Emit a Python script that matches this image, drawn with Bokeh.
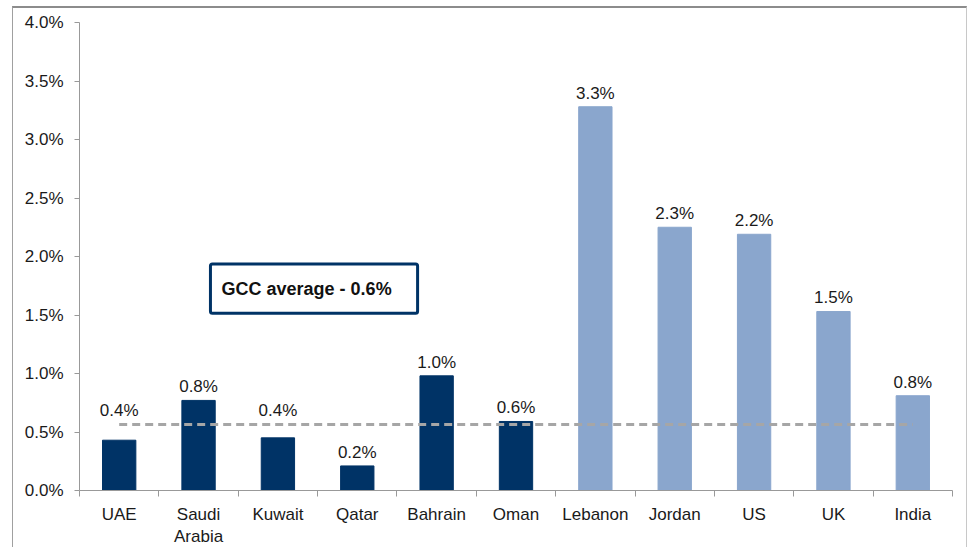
from bokeh.plotting import figure
from bokeh.models import FixedTicker, PrintfTickFormatter, Range1d, Label, BoxAnnotation, ColumnDataSource
from bokeh.embed import file_html
from bokeh.resources import INLINE

categories = ["UAE", "Saudi\nArabia", "Kuwait", "Qatar", "Bahrain", "Oman",
              "Lebanon", "Jordan", "US", "UK", "India"]
values = [0.43, 0.77, 0.45, 0.21, 0.98, 0.59, 3.28, 2.25, 2.19, 1.53, 0.81]
labels = ["0.4%", "0.8%", "0.4%", "0.2%", "1.0%", "0.6%", "3.3%", "2.3%", "2.2%", "1.5%", "0.8%"]
is_gcc = [True, True, True, True, True, True, False, False, False, False, False]
label_over_average = [True, False, True, False, False, False, False, False, False, False, False]
gcc_average = 0.565
gcc_text = "GCC average - 0.6%"
y_ticks = [0, 0.5, 1.0, 1.5, 2.0, 2.5, 3.0, 3.5, 4.0]

NAVY = "#003366"
LIGHT = "#8AA6CD"
FONT = "Liberation Sans"

n = len(categories)
xs = [i + 0.5 for i in range(n)]
colors = [NAVY if g else LIGHT for g in is_gcc]
label_y = [gcc_average if o else v for v, o in zip(values, label_over_average)]

src = ColumnDataSource(dict(x=xs, top=values, color=colors, label=labels, ly=label_y))

p = figure(width=955, height=541, output_backend="svg", toolbar_location=None,
           x_range=Range1d(0, n), y_range=Range1d(0, 4.0),
           min_border_left=66, min_border_right=16, min_border_top=14, min_border_bottom=58)
p.margin = (6, 0, 0, 12)
p.outline_line_color = None
p.xgrid.grid_line_color = None
p.ygrid.grid_line_color = None
p.background_fill_color = "white"
p.styles = {"border-top": "2px solid #8c8c8c", "border-left": "1px solid #a0a0a0",
            "border-right": "1px solid #c8c8c8"}

p.vbar(x="x", top="top", width=0.42, bottom=0, color="color", source=src)

p.text(x="x", y="ly", text="label", source=src, text_align="center", text_baseline="bottom",
       y_offset=-4, text_font_size="17px", text_color="#1a1a1a", text_font={"value": FONT})

p.line(x=[xs[0], xs[-1]], y=[gcc_average, gcc_average], line_color="#a6a6a6",
       line_width=3, line_dash="8 5")

# GCC average box
box = BoxAnnotation(left=1.65, right=4.26, bottom=1.516, top=1.936,
                    fill_color="white", fill_alpha=1.0, line_color=NAVY, line_alpha=1.0,
                    line_width=3, border_radius=2)
p.add_layout(box)
p.add_layout(Label(x=1.79, y=1.726, text=gcc_text, text_baseline="middle",
                   text_font_size="18px", text_font_style="bold", text_color="#111111",
                   text_font=FONT))

# y axis
ya = p.yaxis[0]
ya.ticker = FixedTicker(ticks=y_ticks)
ya.formatter = PrintfTickFormatter(format="%.1f%%")
ya.axis_line_color = "#999999"
ya.major_tick_line_color = "#999999"
ya.major_tick_out = 5
ya.major_tick_in = 0
ya.minor_tick_line_color = None
ya.major_label_text_font = FONT
ya.major_label_text_font_size = "17px"
ya.major_label_text_color = "#1a1a1a"
ya.major_label_standoff = 11

# x axis
xa = p.xaxis[0]
xa.ticker = FixedTicker(ticks=xs, minor_ticks=list(range(n + 1)))
xa.major_label_overrides = {x: c for x, c in zip(xs, categories)}
xa.axis_line_color = "#999999"
xa.major_tick_line_color = None
xa.minor_tick_line_color = "#999999"
xa.minor_tick_out = 6
xa.minor_tick_in = 0
xa.major_label_text_font = FONT
xa.major_label_text_font_size = "17px"
xa.major_label_text_color = "#1a1a1a"
xa.major_label_standoff = 8

open("out.html", "w").write(file_html(p, INLINE))
